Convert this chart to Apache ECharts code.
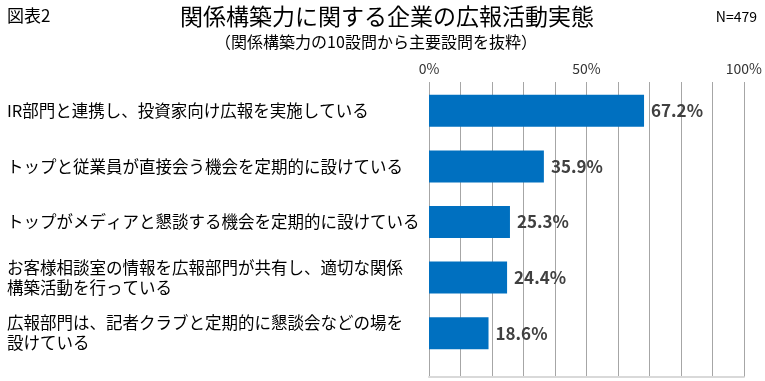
<!DOCTYPE html>
<html><head><meta charset="utf-8">
<script src="https://cdn.jsdelivr.net/npm/echarts@6/dist/echarts.min.js"></script>
<style>html,body{margin:0;padding:0;background:#fff}#c{width:765px;height:381px}</style>
</head><body><div id="c"></div>
<script>
var categories = [
  "IR部門と連携し、投資家向け広報を実施している",
  "トップと従業員が直接会う機会を定期的に設けている",
  "トップがメディアと懇談する機会を定期的に設けている",
  "お客様相談室の情報を広報部門が共有し、適切な関係\n構築活動を行っている",
  "広報部門は、記者クラブと定期的に懇談会などの場を\n設けている"
];
var values = [67.2, 35.9, 25.3, 24.4, 18.6];
var tickLabels = {0: "0%", 50: "50%", 100: "100%"};

var FONT = '"Noto Sans CJK JP", "Noto Sans", sans-serif';
var chart = echarts.init(document.getElementById('c'));
chart.setOption({
  backgroundColor: '#fff',
  animation: false,
  textStyle: {fontFamily: FONT},
  graphic: [
    {type: 'text', left: 7, top: 7, style: {text: '図表2', fontSize: 17, fill: '#000', fontFamily: FONT}},
    {type: 'text', right: 8, top: 10, style: {text: 'N=479', fontSize: 14, fill: '#000', fontFamily: FONT}},
    {type: 'text', x: 387, y: 16, style: {text: '関係構築力に関する企業の広報活動実態', fontSize: 23, fontWeight: 'normal', fill: '#000', align: 'center', verticalAlign: 'middle', fontFamily: FONT}},
    {type: 'text', x: 376, y: 42, style: {text: '（関係構築力の10設問から主要設問を抜粋）', fontSize: 16, fill: '#000', align: 'center', verticalAlign: 'middle', fontFamily: FONT}}
  ],
  grid: [
    {left: 429, right: 16, top: 83, height: 278},
    {left: 429, right: 16, top: 82, bottom: 4}
  ],
  xAxis: [
    {gridIndex: 0, type: 'value', min: 0, max: 100, show: false},
    {gridIndex: 1, type: 'value', min: 0, max: 100, interval: 10, position: 'top',
     axisLine: {show: false}, axisTick: {show: false},
     splitLine: {show: true, lineStyle: {color: '#a6a6a6', width: 1}},
     axisLabel: {margin: 6, fontSize: 14, color: '#333', fontFamily: FONT,
       formatter: function (v) { return tickLabels[v] !== undefined ? tickLabels[v] : ''; }}},
    {gridIndex: 1, type: 'value', min: 0, max: 100, position: 'bottom',
     axisLine: {show: true, lineStyle: {color: '#d9d9d9', width: 2}},
     axisTick: {show: false}, axisLabel: {show: false}, splitLine: {show: false}}
  ],
  yAxis: [
    {gridIndex: 0, type: 'category', data: categories, inverse: true,
     axisLine: {show: false}, axisTick: {show: false},
     axisLabel: {align: 'left', margin: 422, fontSize: 16.5, color: '#000', lineHeight: 20, fontFamily: FONT}},
    {gridIndex: 1, type: 'value', show: false}
  ],
  series: [{
    type: 'bar', xAxisIndex: 0, yAxisIndex: 0, data: values, barWidth: 32,
    itemStyle: {color: '#0070C0'},
    label: {show: true, position: 'right', distance: 7, fontSize: 17, fontWeight: 'bold', color: '#404040', fontFamily: FONT,
      formatter: function (p) { return p.value.toFixed(1) + '%'; }}
  }]
});
</script></body></html>
